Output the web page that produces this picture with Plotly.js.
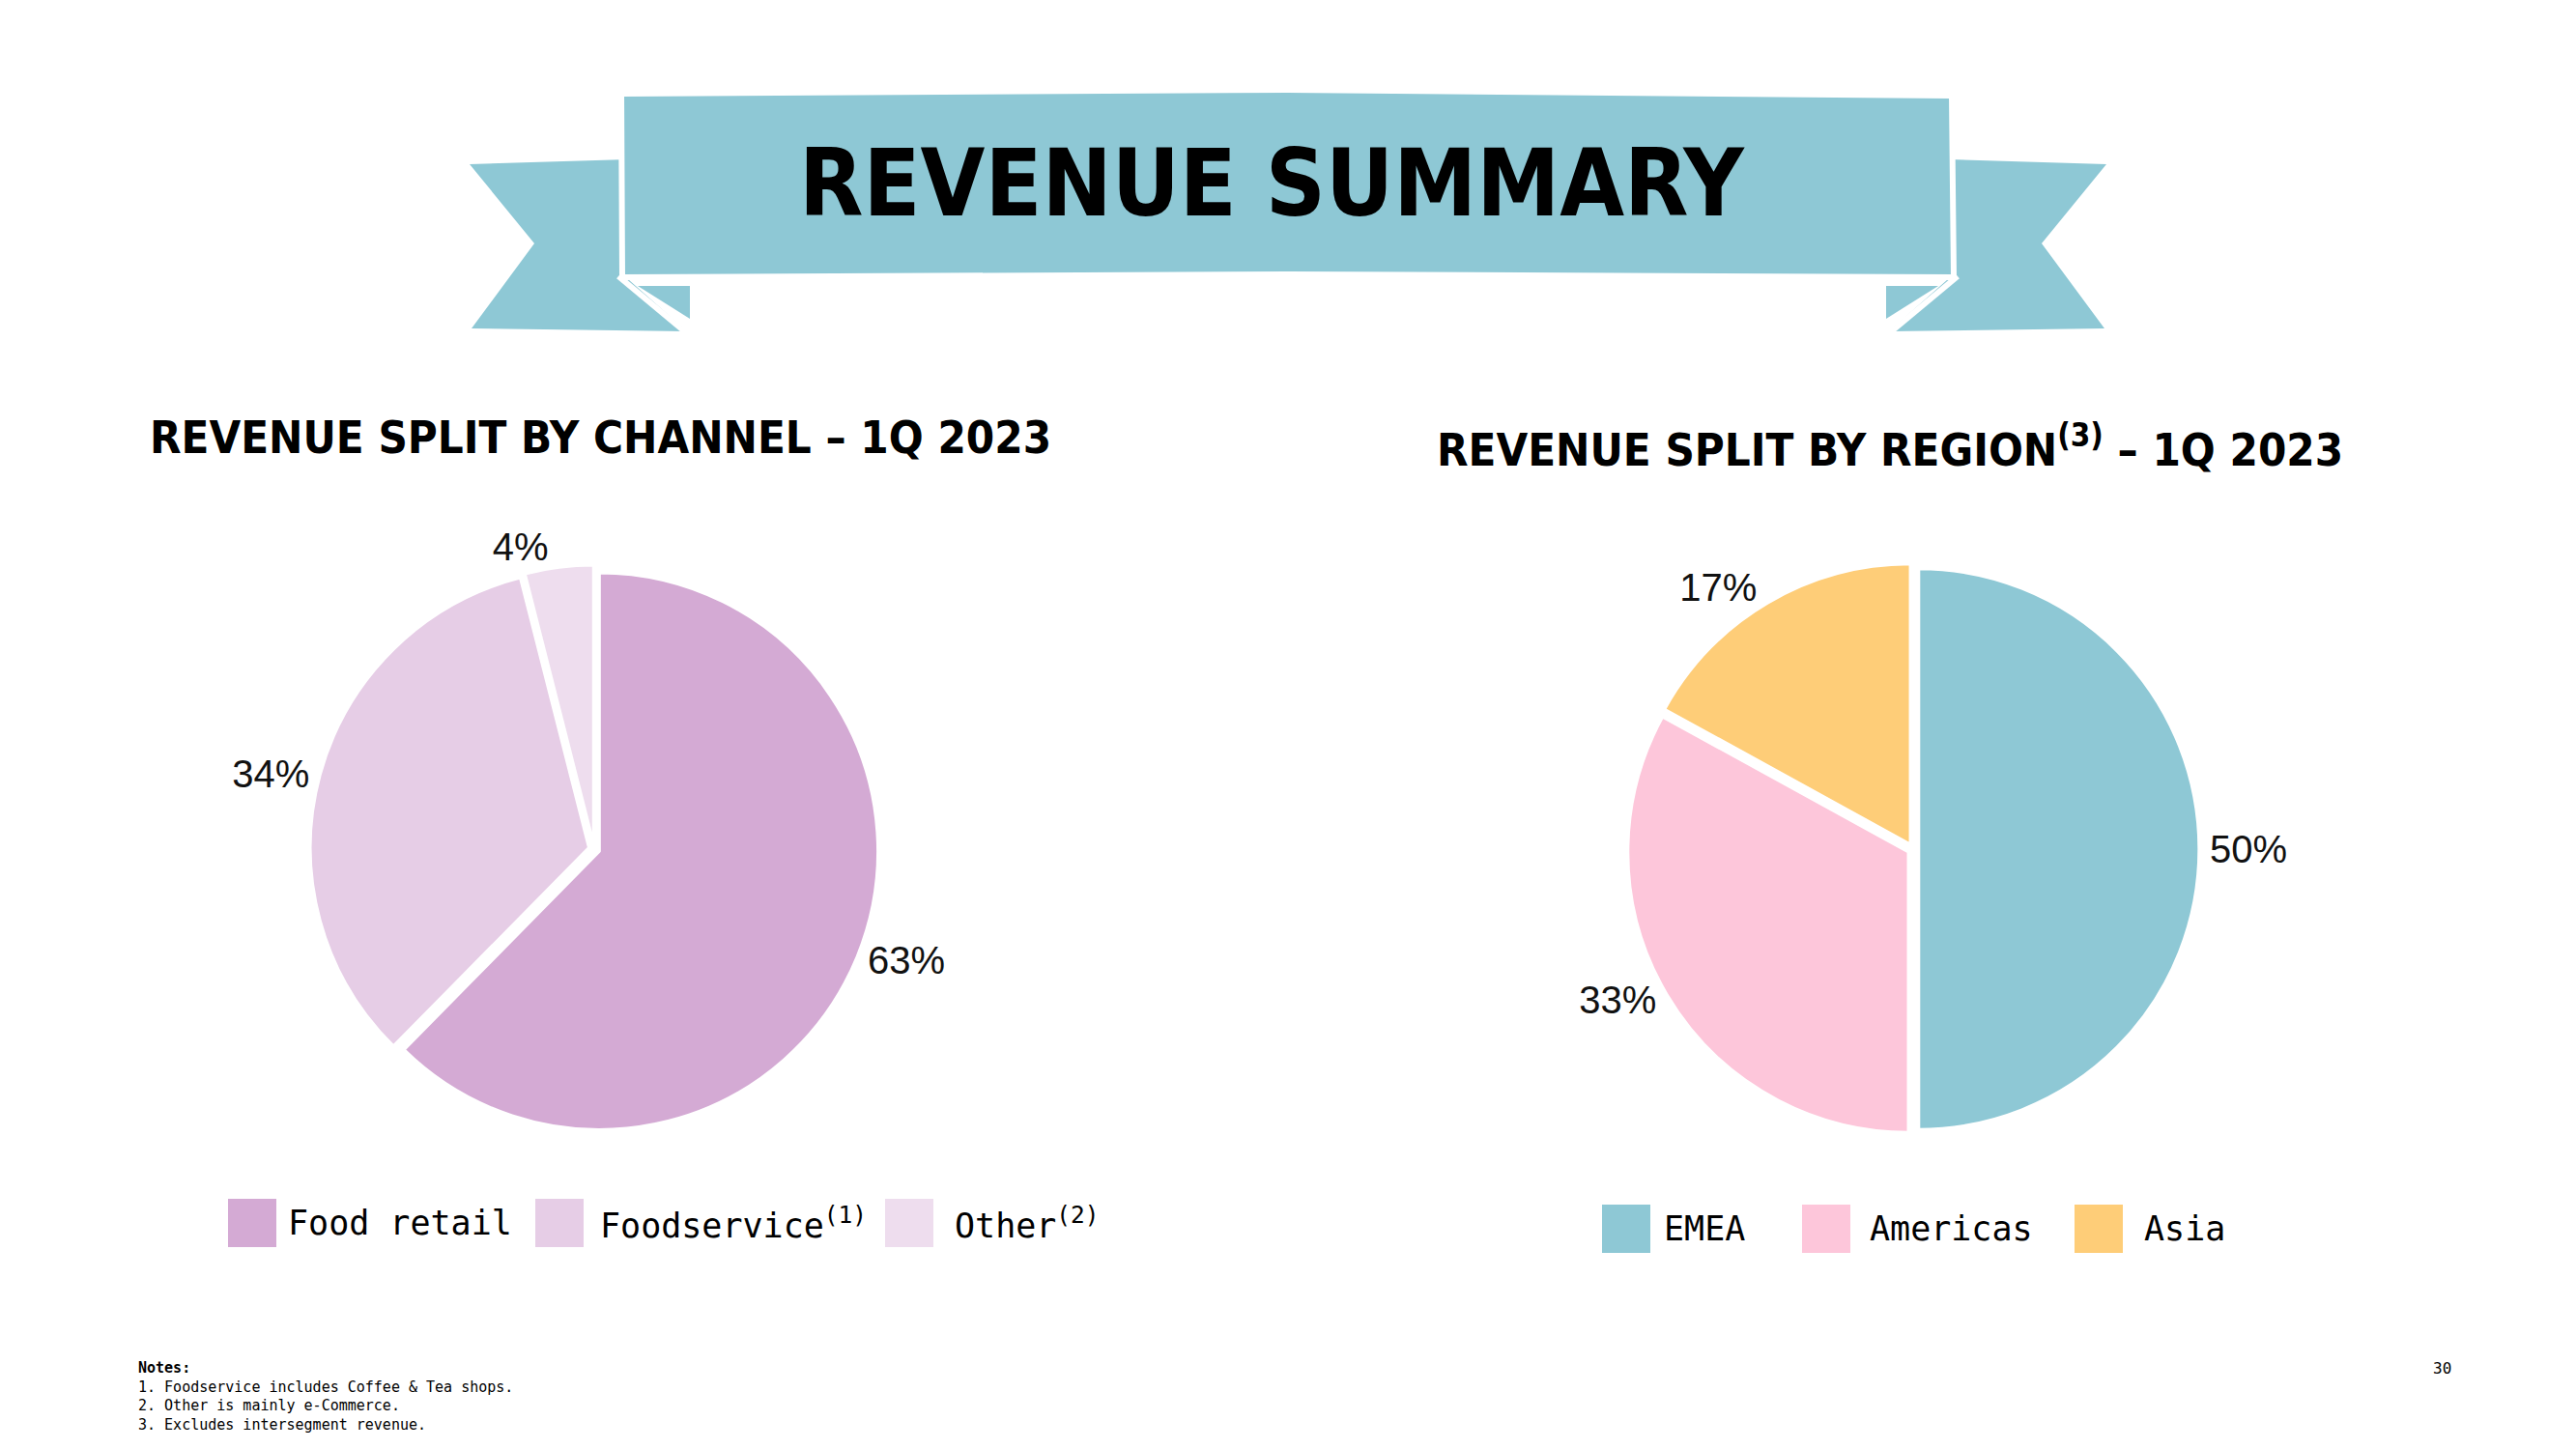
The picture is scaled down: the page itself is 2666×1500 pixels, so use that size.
<!DOCTYPE html>
<html>
<head>
<meta charset="utf-8">
<script src="https://cdn.plot.ly/plotly-3.0.1.min.js"></script>
<style>
html,body{margin:0;padding:0;background:#fff;}
#chart{width:2666px;height:1500px;}
</style>
</head>
<body>
<div id="chart"></div>
<script>
// ---- data ----
const channelLabels = ["Food retail", "Foodservice", "Other"];
const channelLegend = ["Food retail", "Foodservice<sup>(1)</sup>", "Other<sup>(2)</sup>"];
const channelValues = [63, 34, 4];
const channelColors = ["#D4AAD4", "#E6CDE6", "#EEDDEE"];

const regionLabels = ["EMEA", "Americas", "Asia"];
const regionValues = [50, 33, 17];
const regionColors = ["#8EC8D5", "#FDC6DA", "#FECD78"];

const mainTitle = "REVENUE SUMMARY";
const channelTitle = "REVENUE SPLIT BY CHANNEL – 1Q 2023";
const regionTitle = "REVENUE SPLIT BY REGION<sup>(3)</sup> – 1Q 2023";
const notesText = "<b>Notes:</b><br>1. Foodservice includes Coffee & Tea shops.<br>2. Other is mainly e-Commerce.<br>3. Excludes intersegment revenue.";
const pageNumber = "30";

// ---- helpers ----
const W = 2666, H = 1500;
const px = x => x / W;
const py = y => 1 - y / H;
const path = pts => "M" + pts.map(p => px(p[0]).toFixed(5) + "," + py(p[1]).toFixed(5)).join(" L") + " Z";

const bannerColor = "#8EC8D5";
const labelFont = {family: "Liberation Sans, Arial, sans-serif", size: 40, color: "#111"};
const monoFont = "DejaVu Sans Mono, Liberation Mono, monospace";
const headFont = "DejaVu Sans Condensed, DejaVu Sans, sans-serif";

function pieDomain(cx, cy, half) {
  return {x: [px(cx - half), px(cx + half)], y: [py(cy + half), py(cy - half)]};
}

const traces = [
  {
    type: "pie",
    labels: channelLabels,
    values: channelValues,
    text: channelValues.map(v => v + "%"),
    textinfo: "text",
    textposition: "outside",
    outsidetextfont: labelFont,
    sort: false,
    direction: "clockwise",
    rotation: 0,
    pull: [0.02, 0.02, 0.02],
    marker: {colors: channelColors, line: {color: "#fff", width: 3}},
    domain: pieDomain(615, 879, 294),
    hoverinfo: "label+percent",
    showlegend: false
  },
  {
    type: "pie",
    labels: regionLabels,
    values: regionValues,
    text: regionValues.map(v => v + "%"),
    textinfo: "text",
    textposition: "outside",
    outsidetextfont: labelFont,
    sort: false,
    direction: "clockwise",
    rotation: 0,
    pull: [0.02, 0.02, 0.02],
    marker: {colors: regionColors, line: {color: "#fff", width: 3}},
    domain: pieDomain(1980, 879, 296),
    hoverinfo: "label+percent",
    showlegend: false
  }
];

// ---- banner shapes ----
const shapes = [];
const bannerFill = (pts, lineW) => ({
  type: "path", xref: "paper", yref: "paper", path: path(pts),
  fillcolor: bannerColor, line: {color: "#fff", width: lineW || 0}, layer: "above"
});
// tails
shapes.push(bannerFill([[486,170],[650,165],[650,289],[711,343],[488,340],[553,252]], 0));
shapes.push(bannerFill([[2180,170],[2016,165],[2016,289],[1955,343],[2178,340],[2113,252]], 0));
// folds
shapes.push(bannerFill([[660,296],[714,296],[714,330]], 0));
shapes.push(bannerFill([[2006,296],[1952,296],[1952,330]], 0));
// fold white lines
shapes.push({type: "line", xref: "paper", yref: "paper", x0: px(640), y0: py(286), x1: px(712), y1: py(346), line: {color: "#fff", width: 6}});
shapes.push({type: "line", xref: "paper", yref: "paper", x0: px(2026), y0: py(286), x1: px(1954), y1: py(346), line: {color: "#fff", width: 6}});
// main ribbon
shapes.push(bannerFill([[643,97],[1333,93],[2020,99],[2022,287],[1333,284],[644,287]], 6));

// ---- annotations ----
const annotations = [
  {text: "<b>" + mainTitle + "</b>", x: px(1316), y: py(190), xref: "paper", yref: "paper",
   showarrow: false, xanchor: "center", yanchor: "middle",
   font: {family: headFont, size: 96, color: "#000"}},
  {text: "<b>" + channelTitle + "</b>", x: px(153), y: py(452), xref: "paper", yref: "paper",
   showarrow: false, xanchor: "left", yanchor: "middle",
   font: {family: headFont, size: 47, color: "#000"}},
  {text: "<b>" + regionTitle + "</b>", x: px(1485), y: py(462), xref: "paper", yref: "paper",
   showarrow: false, xanchor: "left", yanchor: "middle",
   font: {family: headFont, size: 47, color: "#000"}},
  {text: notesText, x: px(141), y: py(1405), xref: "paper", yref: "paper",
   showarrow: false, xanchor: "left", yanchor: "top", align: "left",
   font: {family: monoFont, size: 15, color: "#000"}},
  {text: pageNumber, x: px(2527), y: py(1416), xref: "paper", yref: "paper",
   showarrow: false, xanchor: "center", yanchor: "middle",
   font: {family: monoFont, size: 16, color: "#000"}}
];

// ---- custom legends ----
function addLegend(labels, colors, swatchX, textX, yc, size) {
  labels.forEach((lab, i) => {
    shapes.push({type: "rect", xref: "paper", yref: "paper",
      x0: px(swatchX[i]), x1: px(swatchX[i] + size), y0: py(yc + size / 2), y1: py(yc - size / 2),
      fillcolor: colors[i], line: {width: 0}});
    annotations.push({text: lab, x: px(textX[i]), y: py(yc), xref: "paper", yref: "paper",
      showarrow: false, xanchor: "left", yanchor: "middle",
      font: {family: monoFont, size: 35, color: "#000"}});
  });
}
addLegend(channelLegend, channelColors, [236, 554, 916], [296, 619, 986], 1266, 50);
addLegend(regionLabels, regionColors, [1658, 1865, 2147], [1720, 1933, 2217], 1272, 50);

const layout = {
  width: W, height: H,
  margin: {l: 0, r: 0, t: 0, b: 0},
  paper_bgcolor: "#fff",
  plot_bgcolor: "#fff",
  showlegend: false,
  shapes: shapes,
  annotations: annotations
};

Plotly.newPlot("chart", traces, layout, {displayModeBar: false, staticPlot: true});
</script>
</body>
</html>
